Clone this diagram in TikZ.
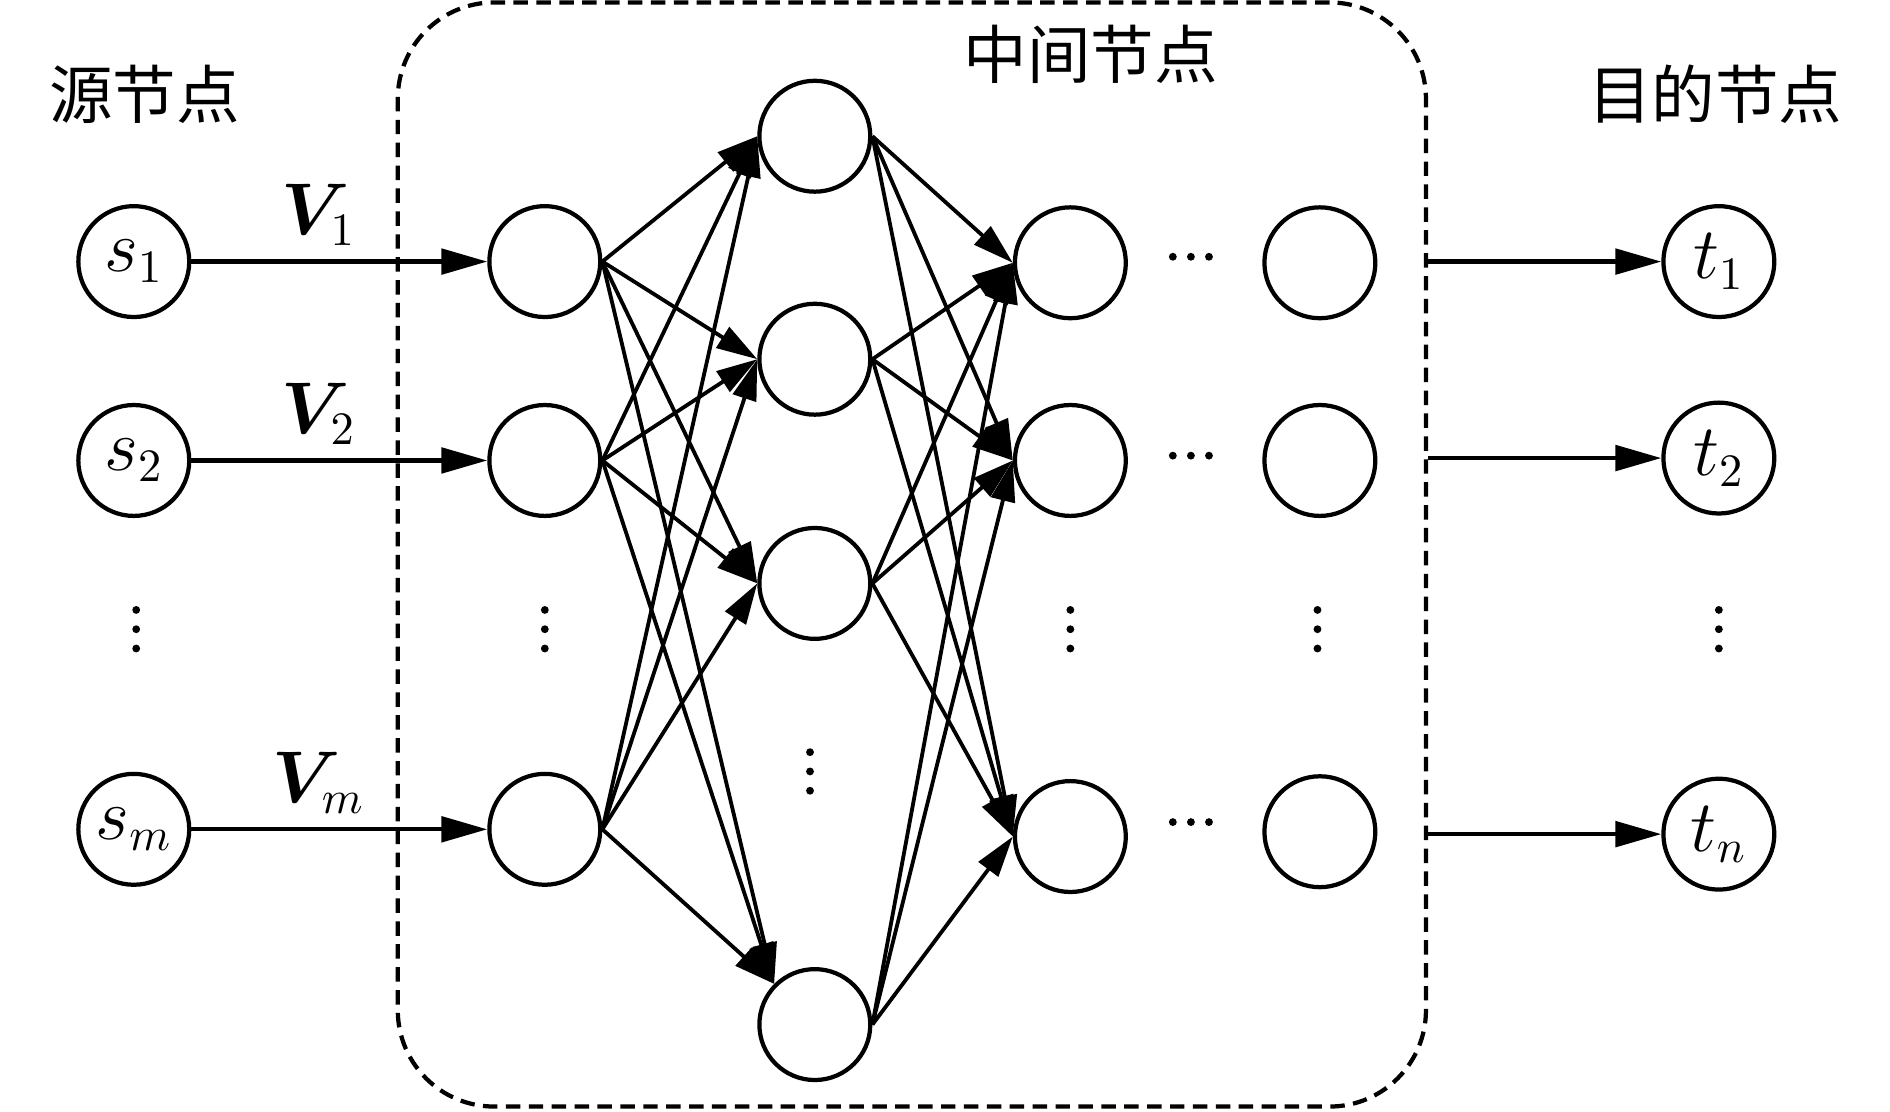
\documentclass[tikz,border=0pt]{standalone}
\usepackage{amsmath}
\usepackage{bm}
\usepackage{fontspec}
\newfontfamily\cjk{Noto Sans CJK SC}
\usetikzlibrary{arrows.meta}

\begin{document}
\begin{tikzpicture}[
        nd/.style={circle, draw, line width=1pt, minimum size=0.92cm, inner sep=0pt, font=\fontsize{16}{18}\selectfont},
        arr/.style={line width=1pt, -{Triangle[length=0.38cm, width=0.21cm]}},
        link/.style={line width=0.9pt, -{Triangle[length=0.34cm, width=0.2cm]}},
        title/.style={font=\cjk\fontsize{15}{18}\selectfont},
        dot/.style={circle, fill, inner sep=0pt, minimum size=0.065cm}
    ]
        \useasboundingbox (0,0) rectangle (15.68,-9.225);

        % --- 虚线框 ---
        \node[draw, dash pattern=on 0.12cm off 0.07cm, line width=1pt, rounded corners=0.8cm,
              minimum width=8.53cm, minimum height=9.16cm, inner sep=0pt] (mid) at (7.565,-4.60) {};

        % --- 标题 ---
        \node[title] (src) at (1.20,-0.78) {源节点};
        \node[title] (inner) at (9.05,-0.45) {中间节点};
        \node[title] (dst) at (14.23,-0.78) {目的节点};

        % --- 节点 ---
        % 源节点
        \foreach \y/\name/\lab in {-2.17/s1/s_1, -3.82/s2/s_2, -6.88/s3/s_m} {
            \node[nd] (\name) at (1.11,\y) {$\lab$};
        }
        % 第1列
        \foreach \y/\name in {-2.17/a1, -3.82/a2, -6.88/a3} {
            \node[nd] (\name) at (4.52,\y) {};
        }
        % 第2列
        \foreach \y/\name in {-1.13/b1, -2.98/b2, -4.84/b3, -8.50/b4} {
            \node[nd] (\name) at (6.76,\y) {};
        }
        % 第3列
        \foreach \y/\name in {-2.18/c1, -3.82/c2, -6.94/c3} {
            \node[nd] (\name) at (8.88,\y) {};
        }
        % 第4列
        \foreach \y/\name in {-2.18/d1, -3.82/d2, -6.90/d3} {
            \node[nd] (\name) at (10.95,\y) {};
        }
        % 目的节点
        \foreach \y/\name/\lab in {-2.17/t1/t_1, -3.80/t2/t_2, -6.92/t3/t_n} {
            \node[nd] (\name) at (14.26,\y) {$\lab$};
        }

        % --- 省略号 ---
        \foreach \x in {1.13, 4.52, 8.88, 10.93, 14.26} {
            \foreach \k in {-1,0,1} {
                \node[dot] at (\x,-5.22+0.16*\k) {};
            }
        }
        \foreach \k in {-1,0,1} {
            \node[dot] at (6.72,-6.40+0.16*\k) {};
        }
        \foreach \y in {-2.13, -3.78, -6.82} {
            \foreach \k in {-1,0,1} {
                \node[dot] at (9.88+0.15*\k,\y) {};
            }
        }

        % --- 连线 ---
        \draw[arr] (s1.east) -- node[above, pos=0.43, font=\fontsize{16}{18}\selectfont] (v1) {$\boldsymbol{V}_1$} (a1.west);
        \draw[arr] (s2.east) -- node[above, pos=0.43, font=\fontsize{16}{18}\selectfont] (v2) {$\boldsymbol{V}_2$} (a2.west);
        \draw[arr] (s3.east) -- node[above, pos=0.43, font=\fontsize{16}{18}\selectfont] (v3) {$\boldsymbol{V}_m$} (a3.west);

        \foreach \i in {1,2,3} {
            \foreach \j/\anc in {1/west, 2/west, 3/west, 4/north west} {
                \draw[link] (a\i.east) -- (b\j.\anc);
            }
        }
        \foreach \i in {1,2,3,4} {
            \foreach \j in {1,2,3} {
                \draw[link] (b\i.east) -- (c\j.west);
            }
        }

        \foreach \j in {1,2,3} {
            \draw[arr] (mid.east |- t\j) -- (t\j.west);
        }

    \end{tikzpicture}
\end{document}
